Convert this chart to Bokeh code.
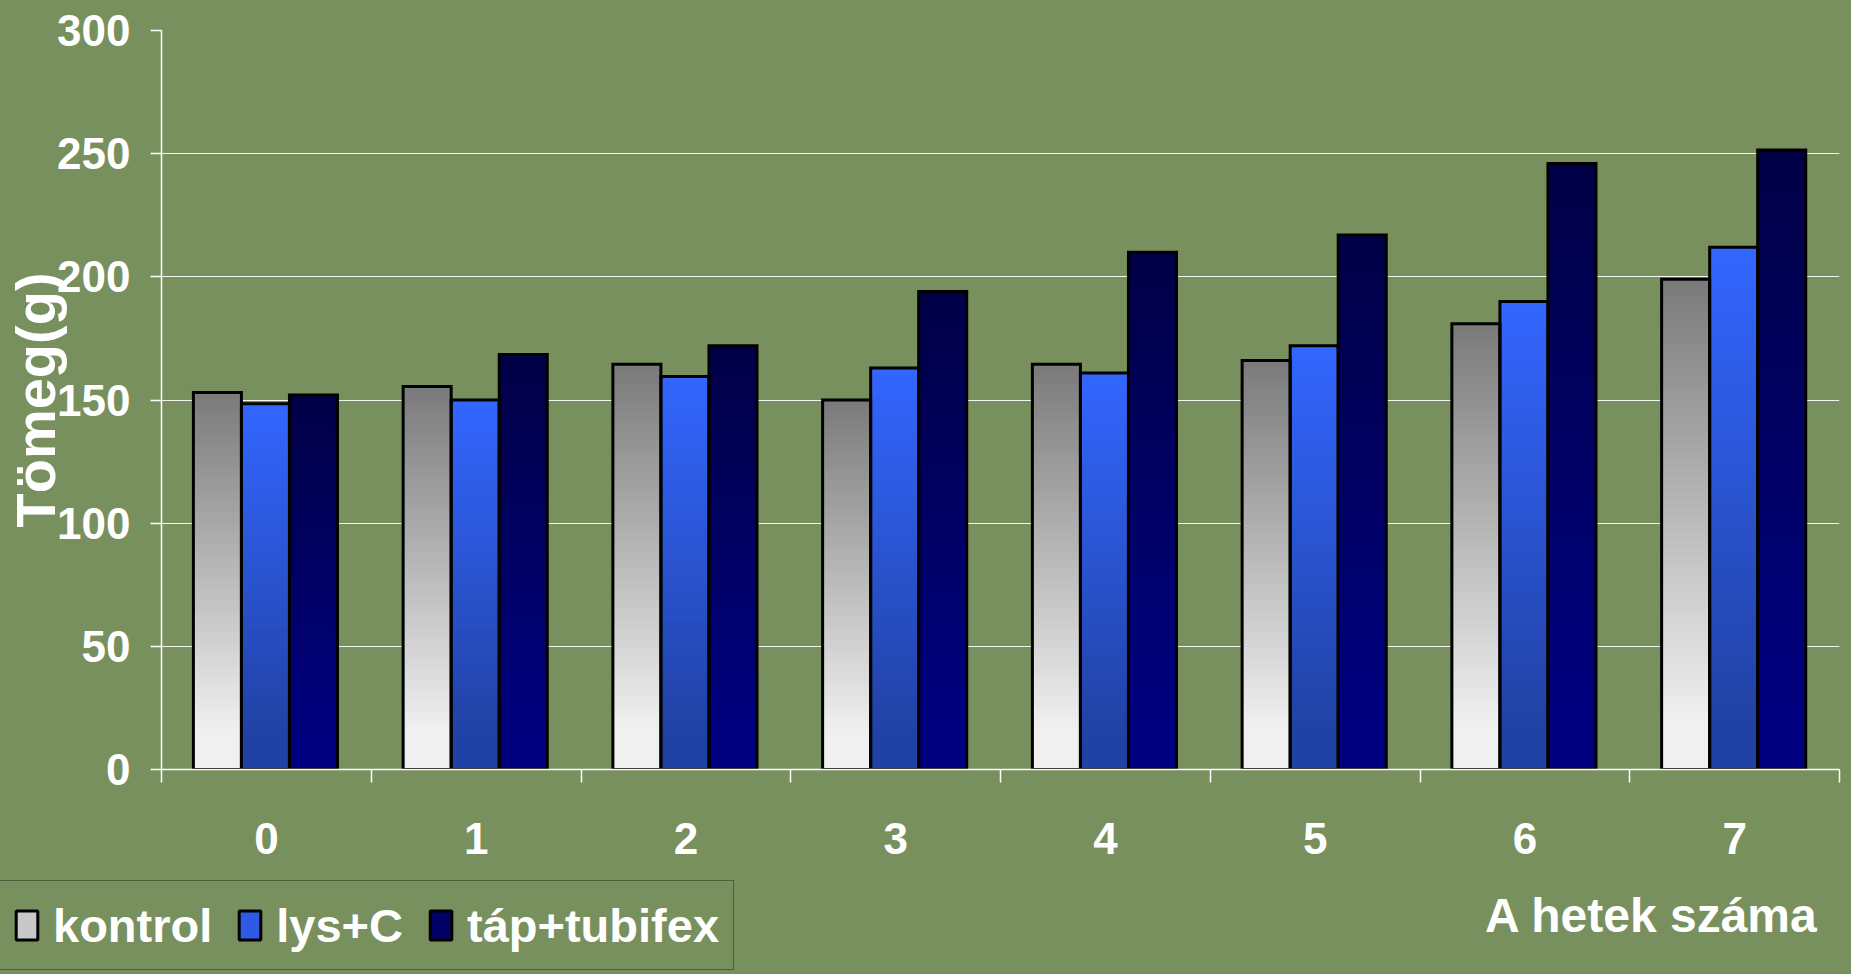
from bokeh.plotting import figure
from bokeh.models import FixedTicker, Legend, LegendItem, Label, Range1d
from bokeh.embed import file_html
from bokeh.resources import INLINE

# ---- data ----
weeks = ["0", "1", "2", "3", "4", "5", "6", "7"]
series_names = ["kontrol", "lys+C", "táp+tubifex"]
kontrol = [153, 155.5, 164.5, 150, 164.5, 166, 181, 199]
lys_c = [148.5, 150, 159.5, 163, 161, 172, 190, 212]
tap_tubifex = [152, 168.5, 172, 194, 210, 217, 246, 251.5]
y_ticks = [0, 50, 100, 150, 200, 250, 300]
x_title = "A hetek száma"
y_title = "Tömeg(g)"

# ---- style ----
FONT = "Liberation Sans"
BG = "#78905d"
grad = {
    "kontrol": ("#7a7a7a", "#f0f0f0", "#c8c8c8"),
    "lys+C": ("#3366ff", "#2142a5", "#2f5ae6"),
    "táp+tubifex": ("#000046", "#00007f", "#000066"),
}
BAR_W = 0.229
OFFSET = 0.152
N = 60


def hex2rgb(h):
    h = h.lstrip("#")
    return tuple(int(h[i:i + 2], 16) for i in (0, 2, 4))


def lerp(c1, c2, t):
    a, b = hex2rgb(c1), hex2rgb(c2)
    return "#%02x%02x%02x" % tuple(int(round(a[k] + (b[k] - a[k]) * t)) for k in range(3))


p = figure(width=1851, height=876, x_range=Range1d(0, len(weeks)), y_range=Range1d(0, 300),
           output_backend="svg", toolbar_location=None,
           min_border_left=161, min_border_right=12, min_border_top=30, min_border_bottom=107)
p.background_fill_color = BG
p.border_fill_color = BG
p.outline_line_color = None

all_series = [kontrol, lys_c, tap_tubifex]
bar_lefts = [[g + OFFSET + j * BAR_W for g in range(len(weeks))] for j in range(len(series_names))]

# gradient bands (each band drawn from 0 up, shorter ones over taller ones)
for j, (name, vals) in enumerate(zip(series_names, all_series)):
    top_c, bot_c, mid_c = grad[name]
    L, R, T, C = [], [], [], []
    for left, v in zip(bar_lefts[j], vals):
        for i in range(N):
            t = (i + 0.5) / N
            L.append(left)
            R.append(left + BAR_W)
            T.append(v * (1 - i / N))
            C.append(lerp(top_c, bot_c, min(1.0, t / 0.9)))
    p.quad(left=L, right=R, bottom=0, top=T, fill_color=C, line_color=None)

# outlines on top
for j, (name, vals) in enumerate(zip(series_names, all_series)):
    lefts = bar_lefts[j]
    rights = [l + BAR_W for l in lefts]
    p.quad(left=lefts, right=rights, bottom=0, top=vals, fill_color=None,
           line_color="black", line_width=3, line_join="miter")

# grid
p.xgrid.visible = False
p.ygrid.ticker = FixedTicker(ticks=y_ticks)
p.ygrid.grid_line_color = "white"
p.ygrid.grid_line_alpha = 0.9
p.ygrid.grid_line_width = 1

# x axis
centers = [i + 0.5 for i in range(len(weeks))]
xa = p.xaxis[0]
xa.ticker = FixedTicker(ticks=centers, minor_ticks=list(range(len(weeks) + 1)))
xa.major_label_overrides = {c: w for c, w in zip(centers, weeks)}
xa.axis_line_color = "white"
xa.axis_line_width = 1.5
xa.major_tick_out = 0
xa.major_tick_in = 0
xa.minor_tick_out = 13
xa.minor_tick_in = 0
xa.minor_tick_line_color = "white"
xa.minor_tick_line_width = 1.5
xa.major_label_text_color = "white"
xa.major_label_text_font = FONT
xa.major_label_text_font_style = "bold"
xa.major_label_text_font_size = "44px"
xa.major_label_standoff = 40

# y axis
ya = p.yaxis[0]
ya.ticker = FixedTicker(ticks=y_ticks, minor_ticks=[])
ya.axis_line_color = "white"
ya.axis_line_width = 1.5
ya.major_tick_out = 11
ya.major_tick_in = 0
ya.major_tick_line_color = "white"
ya.major_tick_line_width = 1.5
ya.minor_tick_line_color = None
ya.major_label_text_color = "white"
ya.major_label_text_font = FONT
ya.major_label_text_font_style = "bold"
ya.major_label_text_font_size = "44px"
ya.major_label_standoff = 20
ya.axis_label = y_title
ya.axis_label_text_color = "white"
ya.axis_label_text_font = FONT
ya.axis_label_text_font_style = "bold"
ya.axis_label_text_font_size = "56px"
ya.axis_label_standoff = -13

# ---- bottom strip: legend and x title ----
p2 = figure(width=1851, height=98, x_range=Range1d(0, 1851), y_range=Range1d(0, 98),
            output_backend="svg", toolbar_location=None, x_axis_type=None, y_axis_type=None,
            min_border=0)
p2.background_fill_color = BG
p2.border_fill_color = BG
p2.outline_line_color = None
p2.xgrid.visible = False
p2.ygrid.visible = False

items = []
for j, (name, vals) in enumerate(zip(series_names, all_series)):
    top_c, bot_c, mid_c = grad[name]
    lefts = bar_lefts[j]
    rights = [l + BAR_W for l in lefts]
    # legend proxy carrying the same bar data; not shown itself
    r = p2.quad(left=lefts, right=rights, top=vals, bottom=0, fill_color=mid_c,
                line_color="black", line_width=3, visible=False)
    items.append(LegendItem(label=name, renderers=[r]))

legend = Legend(items=items, location=(-2, 4), orientation="horizontal",
                label_text_color="white", label_text_font=FONT, label_text_font_style="bold",
                label_text_font_size="47px", glyph_width=27, glyph_height=36, label_height=60,
                label_standoff=13, spacing=24, padding=14, margin=0,
                background_fill_alpha=0, border_line_color="#1f2a18", border_line_width=1.5)
p2.add_layout(legend)

p2.add_layout(Label(x=1818, y=59, text=x_title, text_align="right",
                    text_baseline="alphabetic", text_color="white", text_font=FONT,
                    text_font_style="bold", text_font_size="48px"))

page_style = ("{% block preamble %}<style>html, body { margin: 0; padding: 0; background: "
              + BG + "; }</style>{% endblock %}")
open("out.html", "w").write(file_html([p, p2], INLINE, template=page_style))
